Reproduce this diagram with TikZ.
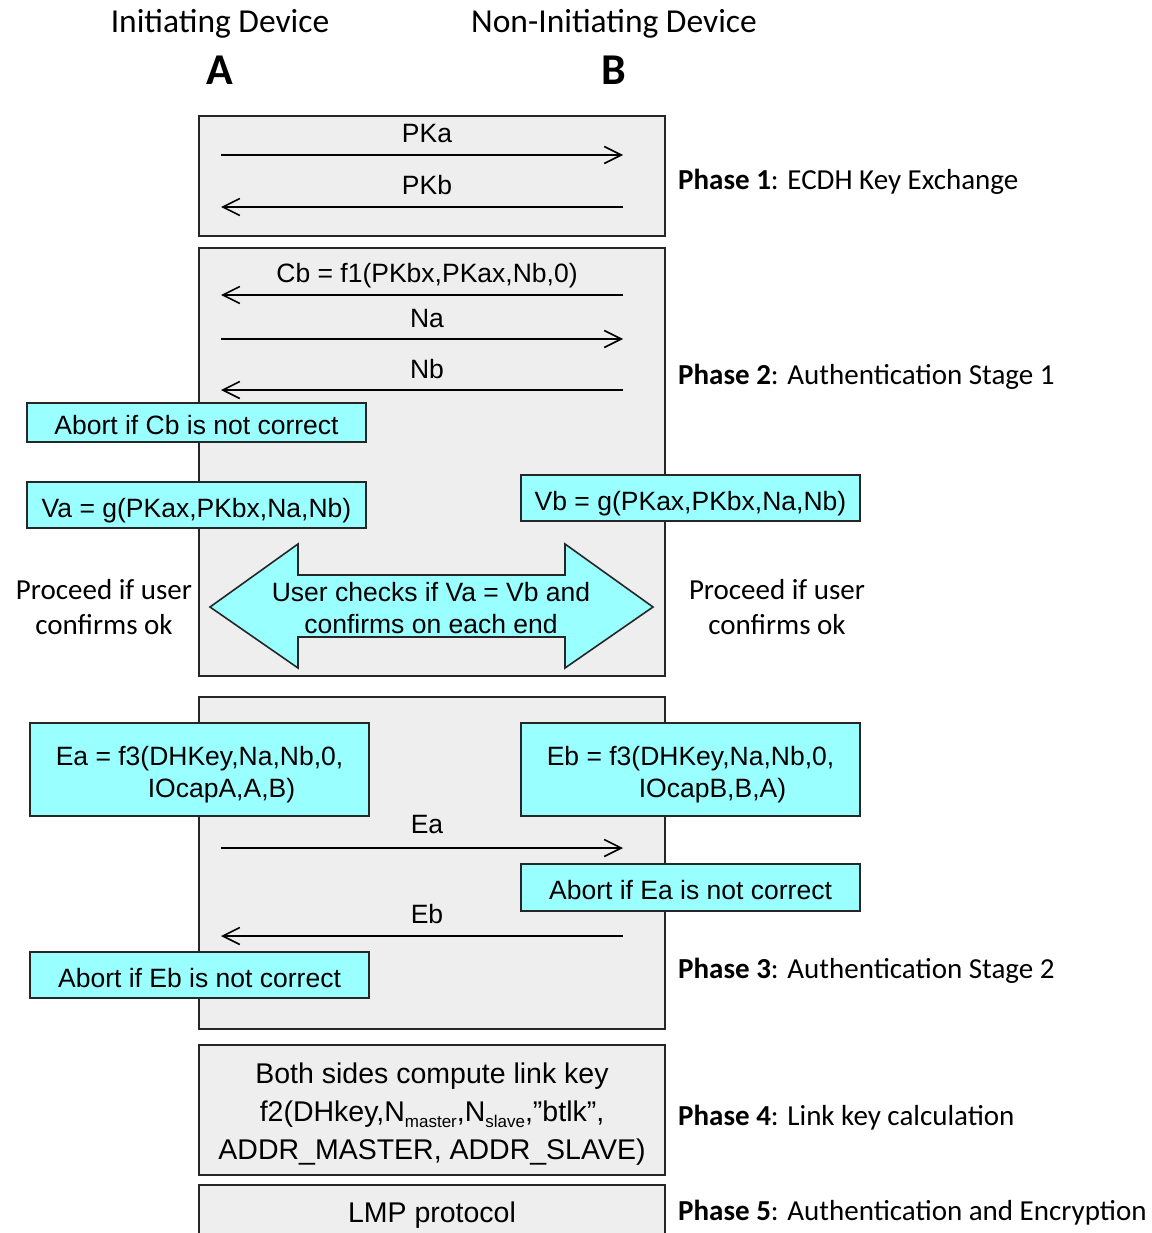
\documentclass[tikz,border=0pt]{standalone}
\usepackage{fontspec}
\setmainfont{Liberation Sans}
\newfontfamily\calfont{Carlito}
\usetikzlibrary{arrows.meta,positioning}
\definecolor{boxgray}{HTML}{EEEEEE}
\definecolor{boxcyan}{HTML}{99FFFF}
\newcommand{\lowsub}[1]{\raisebox{-6pt}{\fontsize{17}{17}\selectfont #1}}

\begin{document}
\begin{tikzpicture}[x=1pt, y=-1pt,
    every node/.style={font=\fontsize{26.5}{32}\selectfont},
    phasebox/.style={draw=black!85, fill=boxgray, line width=1.6pt, minimum width=466pt, inner sep=0pt},
    notebox/.style={draw=black!85, fill=boxcyan, line width=1.6pt, minimum width=339pt, inner sep=0pt,
      text height=24pt, text depth=0pt},
    msg/.style={line width=1.6pt, -{Straight Barb[length=17pt, width=17pt]}},
    msglabel/.style={midway, anchor=base, yshift=12pt, xshift=5pt, inner sep=0pt},
    side/.style={font=\calfont\fontsize{29}{35}\selectfont, align=center, inner sep=0pt},
    phase/.style={font=\calfont\fontsize{29}{35}\selectfont, anchor=west, inner sep=0pt}]
  \useasboundingbox (0,0) rectangle (1151,1233);

  % devices
  \node[font=\calfont\fontsize{33.5}{40}\selectfont] (devA) at (220,24) {Initiating Device};
  \node[font=\calfont\fontsize{33.5}{40}\selectfont] (devB) at (614,24) {Non-Initiating Device};
  \node[font=\calfont\bfseries\fontsize{44}{50}\selectfont] (A) at (220,70) {A};
  \node[font=\calfont\bfseries\fontsize{44}{50}\selectfont] (B) at (614,70) {B};

  % phase boxes
  \node[phasebox, minimum height=120pt] (ph1) at (432,176) {};
  \node[phasebox, minimum height=428pt] (ph2) at (432,462) {};
  \node[phasebox, minimum height=332pt] (ph3) at (432,863) {};
  \node[phasebox, minimum height=130pt] (ph4) at (432,1110) {};
  \node[phasebox, minimum height=55pt] (ph5) at (432,1212.5) {};
  \node[align=center, font=\fontsize{28.5}{38}\selectfont] (linkkey) at (432,1114)
    {Both sides compute link key\\f2(DHkey,N\lowsub{master},N\lowsub{slave},”btlk”,\\ADDR\_MASTER, ADDR\_SLAVE)};
  \node[font=\fontsize{28.5}{34}\selectfont] (lmp) at (432,1215) {LMP protocol};

  % phase names
  \node[phase] (name1) at (678,182) {\textbf{Phase 1}: ECDH Key Exchange};
  \node[phase] (name2) at (678,377) {\textbf{Phase 2}: Authentication Stage 1};
  \node[phase] (name3) at (678,971) {\textbf{Phase 3}: Authentication Stage 2};
  \node[phase] (name4) at (678,1118) {\textbf{Phase 4}: Link key calculation};
  \node[phase] (name5) at (678,1213) {\textbf{Phase 5}: Authentication and Encryption};

  % phase 1: public keys
  \coordinate (pkaA) at (221,155); \coordinate (pkaB) at (623,155);
  \coordinate (pkbA) at (221,207); \coordinate (pkbB) at (623,207);
  \draw[msg] (pkaA) -- (pkaB) node[msglabel] {PKa};
  \draw[msg] (pkbB) -- (pkbA) node[msglabel] {PKb};

  % phase 2: commitment and nonces
  \coordinate (cbA) at (221,295); \coordinate (cbB) at (623,295);
  \coordinate (naA) at (221,339); \coordinate (naB) at (623,339);
  \coordinate (nbA) at (221,390); \coordinate (nbB) at (623,390);
  \draw[msg] (cbB) -- (cbA) node[msglabel, yshift=1pt] {Cb = f1(PKbx,PKax,Nb,0)};
  \draw[msg] (naA) -- (naB) node[msglabel] {Na};
  \draw[msg] (nbB) -- (nbA) node[msglabel] {Nb};

  \node[notebox, minimum height=39pt] (abortCb) at (196.5,422.5) {Abort if Cb is not correct};
  \node[notebox, minimum height=46pt] (va) at (196.5,505) {Va = g(PKax,PKbx,Na,Nb)};
  \node[notebox, minimum height=46pt] (vb) at (690.5,498) {Vb = g(PKax,PKbx,Na,Nb)};

  % two-way arrow: user compares Va and Vb
  \filldraw[fill=boxcyan, draw=black!85, line width=1.6pt]
    (210,607) -- (298,544) -- (298,575) -- (565,575) -- (565,544) -- (653,607)
    -- (565,668) -- (565,637) -- (298,637) -- (298,668) -- cycle;
  \node[align=center] (check) at (431,608) {User checks if Va = Vb and\\confirms on each end};
  \node[side] (okA) at (104,607.5) {Proceed if user\\confirms ok};
  \node[side] (okB) at (777,607.5) {Proceed if user\\confirms ok};

  % phase 3: check values
  \node[notebox, minimum height=93pt] (ea) at (199.5,769.5) {};
  \node[notebox, minimum height=93pt] (eb) at (690.5,769.5) {};
  \node[align=center] (eaText) at (199.5,774.5) {Ea = f3(DHKey,Na,Nb,0,\\\hspace*{44pt}IOcapA,A,B)};
  \node[align=center] (ebText) at (690.5,774.5) {Eb = f3(DHKey,Na,Nb,0,\\\hspace*{44pt}IOcapB,B,A)};
  \coordinate (eaA) at (221,848); \coordinate (eaB) at (623,848);
  \coordinate (ebA) at (221,936); \coordinate (ebB) at (623,936);
  \draw[msg] (eaA) -- (eaB) node[msglabel, yshift=3pt] {Ea};
  \draw[msg] (ebB) -- (ebA) node[msglabel, yshift=1pt] {Eb};
  \node[notebox, minimum height=47pt] (abortEa) at (690.5,887.5) {Abort if Ea is not correct};
  \node[notebox, minimum height=46pt] (abortEb) at (199.5,975) {Abort if Eb is not correct};
\end{tikzpicture}
\end{document}
